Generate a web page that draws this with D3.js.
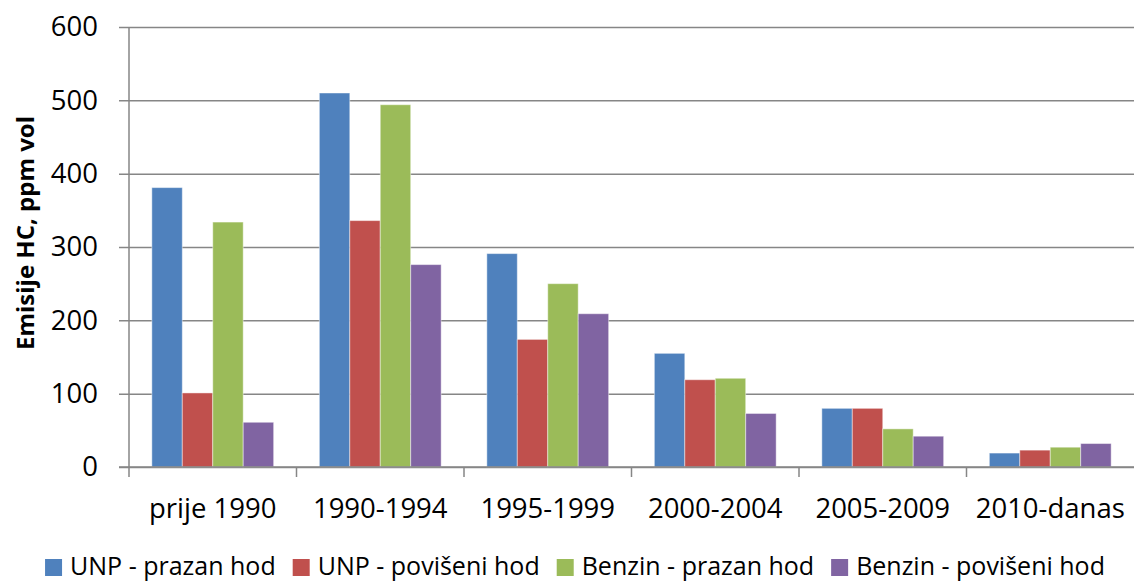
<!DOCTYPE html>
<html>
  <head>
    <script src="https://d3js.org/d3.v7.min.js"></script>
    <style>
      body { margin: 0; background: #fff; }
      svg text { font-family: "Open Sans", sans-serif; fill: #000; }
    </style>
  </head>
  <body>
    <script>
      // categories and series
      var categories = ["prije 1990", "1990-1994", "1995-1999", "2000-2004", "2005-2009", "2010-danas"];
      var seriesNames = ["UNP - prazan hod", "UNP - povišeni hod", "Benzin - prazan hod", "Benzin - povišeni hod"];
      var unpPrazan = [381, 510, 291, 155, 80, 19];
      var unpPoviseni = [101, 336, 174, 119, 80, 23];
      var benzinPrazan = [334, 494, 250, 121, 52, 27];
      var benzinPoviseni = [61, 276, 209, 73, 42, 32];
      var yTicks = [0, 100, 200, 300, 400, 500, 600];
      var colors = ["#4F81BD", "#C0504D", "#9BBB59", "#8064A2"];

      var series = [unpPrazan, unpPoviseni, benzinPrazan, benzinPoviseni];

      var width = 1134, height = 582;
      var margin = {top: 27, right: 0, bottom: 115, left: 129};
      var w = width - margin.left - margin.right,
          h = height - margin.top - margin.bottom;

      var svg = d3.select("body").append("svg")
          .attr("width", width)
          .attr("height", height);
      var g = svg.append("g")
          .attr("transform", "translate(" + margin.left + "," + margin.top + ")");

      var x = d3.scaleBand().domain(categories).range([0, w]);
      // gap width ~150% of a bar
      var inner = d3.scaleBand().domain(d3.range(4))
          .range([0, x.bandwidth()]).paddingOuter(0.75).paddingInner(0);
      var y = d3.scaleLinear().domain([0, 600]).range([h, 0]);

      // gridlines with little ticks left of the axis
      g.append("g")
          .call(d3.axisLeft(y).tickValues(yTicks).tickSize(-w).tickPadding(31))
          .call(function(a) {
            a.select(".domain").remove();
            a.selectAll(".tick line").attr("x1", -10).attr("x2", w)
              .attr("stroke", "#868686").attr("stroke-width", 1.5);
            a.selectAll(".tick text").attr("font-size", 27.5)
              .attr("font-family", "Open Sans, sans-serif");
          });

      // vertical axis line
      g.append("line")
          .attr("x1", 0).attr("x2", 0).attr("y1", 0).attr("y2", h + 10)
          .attr("stroke", "#868686").attr("stroke-width", 1.5);

      // bars
      var groups = g.selectAll(".grp")
          .data(categories)
        .enter().append("g")
          .attr("class", "grp")
          .attr("transform", function(d) { return "translate(" + x(d) + ",0)"; });

      groups.selectAll("rect")
          .data(function(d, i) { return series.map(function(s, k) { return {k: k, v: s[i]}; }); })
        .enter().append("rect")
          .attr("x", function(d) { return inner(d.k); })
          .attr("width", inner.bandwidth())
          .attr("y", function(d) { return y(d.v); })
          .attr("height", function(d) { return h - y(d.v); })
          .attr("fill", function(d) { return colors[d.k]; })
          .attr("stroke", "rgba(255,255,255,0.45)")
          .attr("stroke-width", 1);

      // x axis with ticks at the category boundaries
      var xAxis = g.append("g").attr("transform", "translate(0," + h + ")");
      xAxis.append("line")
          .attr("x1", -10).attr("x2", w)
          .attr("stroke", "#868686").attr("stroke-width", 1.5);
      xAxis.selectAll(".bt")
          .data(categories.slice(1))
        .enter().append("line")
          .attr("x1", function(d) { return x(d); })
          .attr("x2", function(d) { return x(d); })
          .attr("y1", 0).attr("y2", 10)
          .attr("stroke", "#868686").attr("stroke-width", 1.5);
      xAxis.selectAll(".lbl")
          .data(categories)
        .enter().append("text")
          .attr("x", function(d) { return x(d) + x.bandwidth() / 2; })
          .attr("y", 51)
          .attr("text-anchor", "middle")
          .attr("font-size", 27.5)
          .text(function(d) { return d; });

      // y axis title
      svg.append("text")
          .attr("transform", "translate(34,233) rotate(-90)")
          .attr("text-anchor", "middle")
          .attr("font-size", 24)
          .attr("font-weight", "bold")
          .text("Emisije HC, ppm vol");

      // legend, centred under the chart
      var legendY = 567;
      var legend = svg.append("g");
      var lx = 0;
      seriesNames.forEach(function(name, k) {
        var item = legend.append("g").attr("transform", "translate(" + lx + ",0)");
        item.append("rect")
            .attr("x", 0).attr("y", -8).attr("width", 17).attr("height", 17)
            .attr("fill", colors[k]);
        var t = item.append("text")
            .attr("x", 25).attr("y", 8)
            .attr("font-size", 25)
            .text(name);
        lx += 25 + t.node().getComputedTextLength() + 17;
      });
      var total = lx - 17;
      legend.attr("transform", "translate(" + (575 - total / 2) + "," + legendY + ")");
    </script>
  </body>
</html>
